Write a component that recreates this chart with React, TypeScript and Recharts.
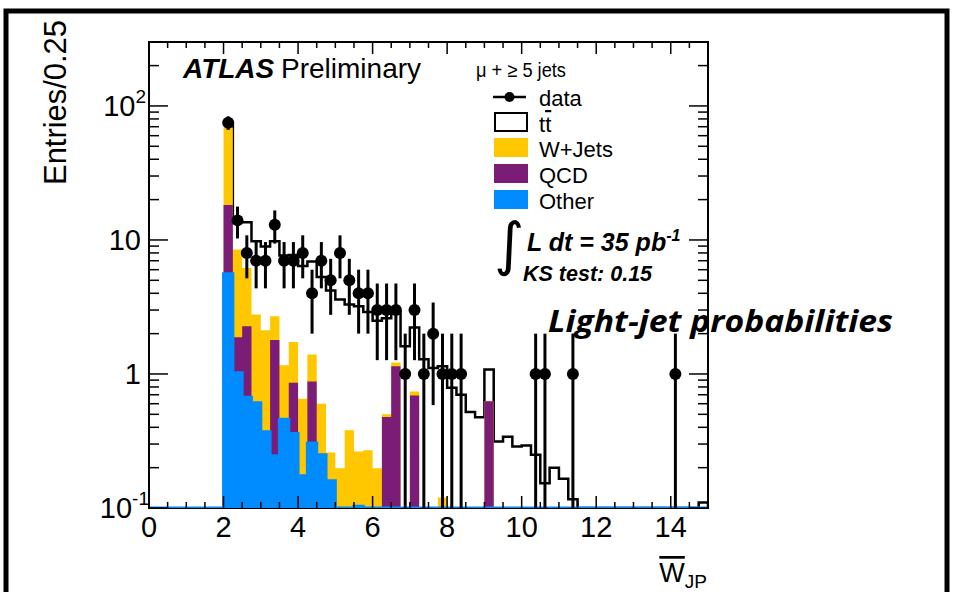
import React from 'react'
import { ComposedChart, Area, Scatter, ErrorBar, XAxis, YAxis } from 'recharts'

const W = 954
const H = 592
const PLOT = { left: 149, right: 708, top: 42, bottom: 508 }
const FONT = '"Liberation Sans", Arial, Helvetica, sans-serif'

const BIN_WIDTH = 0.25
const FIRST_EDGE = 2.0
const X_RANGE: [number, number] = [0, 15]
const Y_RANGE: [number, number] = [0.1, 300]

const YELLOW = '#FFC700'
const PURPLE = '#7B1C77'
const BLUE = '#008CFF'

// expected yields per 0.25 bin, first entry is the bin starting at 2.00
const otherYield = [5.6, 1.02, 0.67, 0.61, 0.37, 0.245, 0.46, 0.36, 0.174, 0.305, 0.25, 0.16, 0, 0, 0.103]
const qcdYield = [12.6, 0.86, 1.6, 0, 0, 1.55, 0, 0.5, 0, 0.575, 0, 0, 0, 0, 0, 0, 0, 0.477, 1.14, 0, 0.69, 0, 0, 0, 0, 0, 0, 0, 0.625]
const wjetsYield = [50.8, 6.6, 3.9, 2.17, 1.75, 0.9, 0.7, 0.87, 0.48, 0.52, 0.35, 0.1, 0.198, 0.38, 0.161, 0.27, 0.198, 0.023, 0.08, 0, 0.05, 0, 0, 0.12]
const ttbarYield = [
  5, 5.1, 7.4, 7.0, 6.8, 7.1, 6.5, 6.0, 5.75, 5.5, 4.7, 3.94, 3.4, 2.92, 2.94, 2.63, 2.3, 2.1, 1.68, 1.61,
  1.48, 1.29, 1.11, 1.02, 0.79, 0.7, 0.52, 0.475, 0.455, 0.314, 0.34, 0.288, 0.293, 0.25, 0.153, 0.2, 0.165, 0.116,
  0, 0, 0, 0, 0, 0, 0, 0, 0, 0, 0, 0, 0, 0.11,
]
// observed events per bin, same binning
const dataCounts = [
  75, 14, 8, 7, 7, 13, 7, 7, 8, 4, 7, 5, 8, 5, 4, 4, 3, 3, 3, 1, 3, 1, 2, 1, 1, 1,
  0, 0, 0, 0, 0, 0, 0, 1, 1, 0, 0, 1, 0, 0, 0, 0, 0, 0, 0, 0, 0, 0, 1, 0, 0, 0,
]

const xTicks = [0, 0.5, 1, 1.5, 2, 2.5, 3, 3.5, 4, 4.5, 5, 5.5, 6, 6.5, 7, 7.5, 8, 8.5, 9, 9.5, 10, 10.5, 11, 11.5, 12, 12.5, 13, 13.5, 14, 14.5, 15]
const xLabels = [0, 2, 4, 6, 8, 10, 12, 14]
const yTicks = [0.1, 0.2, 0.3, 0.4, 0.5, 0.6, 0.7, 0.8, 0.9, 1, 2, 3, 4, 5, 6, 7, 8, 9, 10, 20, 30, 40, 50, 60, 70, 80, 90, 100, 200]
const yDecades = [0.1, 1, 10, 100]

// cumulative stack, one row per bin edge (plus the closing edge at 15)
const floor = (v: number) => Math.max(v, Y_RANGE[0])
const nEdges = Math.round(X_RANGE[1] / BIN_WIDTH)
const table = Array.from({ length: nEdges + 1 }, (_, i) => {
  const x = i * BIN_WIDTH
  const k = Math.round((x - FIRST_EDGE) / BIN_WIDTH)
  if (i === nEdges) {
    return { x, other: Y_RANGE[0], qcd: Y_RANGE[0], wjets: Y_RANGE[0], total: Y_RANGE[0] }
  }
  const o = k >= 0 ? otherYield[k] ?? 0 : 0
  const q = k >= 0 ? qcdYield[k] ?? 0 : 0
  const w = k >= 0 ? wjetsYield[k] ?? 0 : 0
  const t = k >= 0 ? ttbarYield[k] ?? 0 : 0
  return {
    x,
    other: floor(o),
    qcd: floor(o + q),
    wjets: floor(o + q + w),
    total: k >= 0 ? floor(o + q + w + t) : null,
  }
})

const dataPoints = dataCounts
  .map((n, k) => ({
    x: FIRST_EDGE + (k + 0.5) * BIN_WIDTH,
    y: n,
    err: [Math.min(Math.sqrt(n), n - Y_RANGE[0]), Math.sqrt(n)],
  }))
  .filter((p) => p.y > 0)

function XTick(props: any) {
  const { x, payload } = props
  const v = payload.value
  const major = xLabels.includes(v)
  const len = major ? 12 : 6
  return (
    <g>
      <line x1={x} x2={x} y1={PLOT.bottom} y2={PLOT.bottom - len} stroke="#000" strokeWidth={1.5} />
      <line x1={x} x2={x} y1={PLOT.top} y2={PLOT.top + len} stroke="#000" strokeWidth={1.5} />
      {major && (
        <text x={x} y={537} textAnchor="middle" fontSize={29} fontFamily={FONT} fill="#000">
          {v}
        </text>
      )}
    </g>
  )
}

function YLabel({ v, y }: { v: number; y: number }) {
  const base = { fontSize: 29, fontFamily: FONT, fill: '#000' }
  if (v === 100)
    return (
      <text x={146} y={y + 10} textAnchor="end" {...base}>
        10<tspan dy={-13} fontSize={19}>2</tspan>
      </text>
    )
  if (v === 0.1)
    return (
      <text x={149} y={y + 10} textAnchor="end" {...base}>
        10<tspan dy={-13} fontSize={19}>-1</tspan>
      </text>
    )
  return (
    <text x={141} y={y + 10} textAnchor="end" {...base}>
      {v}
    </text>
  )
}

function YTick(props: any) {
  const { y, payload } = props
  const v = payload.value
  const major = yDecades.includes(v)
  const len = major ? 19 : 10
  return (
    <g>
      <line x1={PLOT.left} x2={PLOT.left + len} y1={y} y2={y} stroke="#000" strokeWidth={1.5} />
      <line x1={PLOT.right} x2={PLOT.right - len} y1={y} y2={y} stroke="#000" strokeWidth={1.5} />
      {major && <YLabel v={v} y={y} />}
    </g>
  )
}

const DataDot = (props: any) => <circle cx={props.cx} cy={props.cy} r={6} fill="#000" />

const legendRows = [
  { label: 'W+Jets', color: YELLOW, y: 138 },
  { label: 'QCD', color: PURPLE, y: 164 },
  { label: 'Other', color: BLUE, y: 190 },
]

export default function App() {
  return (
    <div style={{ position: 'absolute', left: 0, top: 0, width: W, height: H, background: '#fff' }}>
      {/* plot frame sits under the histograms so the blue baseline shows on top */}
      <svg width={W} height={H} style={{ position: 'absolute', left: 0, top: 0 }}>
        <rect
          x={PLOT.left}
          y={PLOT.top}
          width={PLOT.right - PLOT.left}
          height={PLOT.bottom - PLOT.top}
          fill="none"
          stroke="#000"
          strokeWidth={2}
        />
      </svg>
      <div style={{ position: 'absolute', left: 0, top: 0 }}>
        <ComposedChart
          width={W}
          height={H}
          data={table}
          margin={{ top: PLOT.top, right: W - PLOT.right, bottom: H - PLOT.bottom - 1, left: PLOT.left - 1 }}
        >
          <XAxis
            type="number"
            dataKey="x"
            domain={X_RANGE}
            ticks={xTicks}
            interval={0}
            tick={XTick}
            tickLine={false}
            axisLine={false}
            height={1}
            allowDataOverflow
          />
          <YAxis
            type="number"
            scale="log"
            domain={Y_RANGE}
            ticks={yTicks}
            interval={0}
            tick={YTick}
            tickLine={false}
            axisLine={false}
            width={1}
            allowDataOverflow
          />
          <Area
            type="stepAfter"
            dataKey="total"
            baseValue={Y_RANGE[0]}
            fill="#fff"
            fillOpacity={1}
            stroke="#000"
            strokeWidth={2.5}
            dot={false}
            activeDot={false}
            isAnimationActive={false}
          />
          <Area
            type="stepAfter"
            dataKey="wjets"
            baseValue={Y_RANGE[0]}
            fill={YELLOW}
            fillOpacity={1}
            stroke="none"
            dot={false}
            activeDot={false}
            isAnimationActive={false}
          />
          <Area
            type="stepAfter"
            dataKey="qcd"
            baseValue={Y_RANGE[0]}
            fill={PURPLE}
            fillOpacity={1}
            stroke="none"
            dot={false}
            activeDot={false}
            isAnimationActive={false}
          />
          <Area
            type="stepAfter"
            dataKey="other"
            baseValue={Y_RANGE[0]}
            fill={BLUE}
            fillOpacity={1}
            stroke={BLUE}
            strokeWidth={3}
            dot={false}
            activeDot={false}
            isAnimationActive={false}
          />
          <Scatter data={dataPoints} dataKey="y" shape={DataDot} isAnimationActive={false}>
            <ErrorBar dataKey="err" direction="y" width={0} stroke="#000" strokeWidth={3} />
          </Scatter>
        </ComposedChart>
      </div>

      <svg
        width={W}
        height={H}
        style={{ position: 'absolute', left: 0, top: 0, pointerEvents: 'none' }}
        fontFamily={FONT}
      >
        <rect x={6} y={11} width={941} height={620} fill="none" stroke="#000" strokeWidth={5} />

        <text transform="translate(66,20) rotate(-90)" textAnchor="end" fontSize={31} textLength={165}>
          Entries/0.25
        </text>
        <text x={707} y={582} textAnchor="end" fontSize={27}>
          <tspan style={{ textDecoration: 'overline' }}>W</tspan>
          <tspan dy={6} fontSize={19}>JP</tspan>
        </text>

        <text x={183} y={78} fontSize={28} fontWeight="bold" fontStyle="italic">
          ATLAS
        </text>
        <text x={281} y={78} fontSize={28}>
          Preliminary
        </text>
        <text x={476} y={77} fontSize={20} textLength={90} lengthAdjust="spacingAndGlyphs">
          μ + ≥ 5 jets
        </text>

        <line x1={493} x2={526} y1={97} y2={97} stroke="#000" strokeWidth={2.5} />
        <circle cx={509.5} cy={97} r={5} fill="#000" />
        <text x={539} y={106} fontSize={22}>
          data
        </text>
        <rect x={495} y={113} width={32} height={18} fill="#fff" stroke="#000" strokeWidth={2} />
        <text x={539} y={132} fontSize={22}>
          t<tspan style={{ textDecoration: 'overline' }}>t</tspan>
        </text>
        {legendRows.map((r) => (
          <g key={r.label}>
            <rect x={494} y={r.y} width={34} height={19} fill={r.color} />
            <text x={539} y={r.y + 19} fontSize={22}>
              {r.label}
            </text>
          </g>
        ))}

        <text x={494} y={264} fontSize={58} fontFamily='"DejaVu Sans", sans-serif'>
          ∫
        </text>
        <text x={527} y={251} fontSize={25} fontWeight="bold" fontStyle="italic">
          L dt = 35 pb<tspan dy={-10} fontSize={16}>-1</tspan>
        </text>
        <text x={523} y={281} fontSize={21.5} fontWeight="bold" fontStyle="italic">
          KS test: 0.15
        </text>

        <text
          x={548}
          y={332}
          fontSize={31}
          fontWeight="bold"
          fontStyle="italic"
          fontFamily='"Open Sans", "Noto Sans", sans-serif'
          textLength={345}
          lengthAdjust="spacingAndGlyphs"
        >
          Light-jet probabilities
        </text>
      </svg>
    </div>
  )
}
